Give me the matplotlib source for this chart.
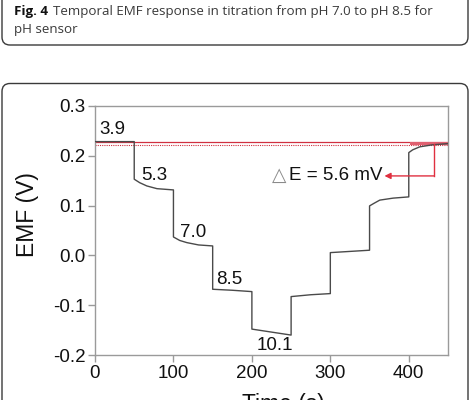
import matplotlib
matplotlib.use("Agg")
import matplotlib.pyplot as plt
from matplotlib.patches import FancyBboxPatch

plt.rcParams['axes.unicode_minus'] = False
plt.rcParams['font.family'] = ['Liberation Sans', 'DejaVu Sans']

# ---- data ----
time_s = [0, 50, 50, 57, 66, 79, 100, 100, 108, 117, 132, 150, 150, 175, 200,
          200, 225, 250, 250, 275, 300, 300, 325, 350, 350, 355, 363, 380, 400,
          400, 405, 414, 430, 450]
emf_v = [0.2285, 0.2285, 0.153, 0.146, 0.1395, 0.134, 0.1315, 0.037, 0.030,
         0.0257, 0.021, 0.019, -0.068, -0.070, -0.0727, -0.148, -0.154, -0.160,
         -0.0827, -0.079, -0.0767, 0.0056, 0.008, 0.0104, 0.0994, 0.104, 0.111,
         0.115, 0.1175, 0.2064, 0.212, 0.218, 0.222, 0.2245]
ph_labels = ["3.9", "5.3", "7.0", "8.5", "10.1"]
ph_label_x = [6, 59, 108, 154, 206]
ph_label_y = [0.252, 0.160, 0.046, -0.048, -0.180]
start_level = 0.2275
end_level = 0.2219
delta_symbol = "\u25b3"
delta_text = "E = 5.6 mV"
xticks = [0, 100, 200, 300, 400]
yticks = [-0.2, -0.1, 0.0, 0.1, 0.2, 0.3]
ytick_labels = ["-0.2", "-0.1", "0.0", "0.1", "0.2", "0.3"]
caption_bold = "Fig. 4"
caption_rest = "Temporal EMF response in titration from pH 7.0 to pH 8.5 for"
caption_line2 = "pH sensor"

W, H = 477, 400
fig = plt.figure(figsize=(W / 100, H / 100), dpi=100)

# overlay for page decorations (pixel coords)
bg = fig.add_axes([0, 0, 1, 1], zorder=0)
bg.set_xlim(0, W)
bg.set_ylim(H, 0)
bg.axis('off')
bg.add_patch(FancyBboxPatch((2, -30), 466, 75, boxstyle="round,pad=0,rounding_size=8",
                            fc='white', ec='#3a3a3a', lw=1.0))
bg.add_patch(FancyBboxPatch((2, 83.5), 466, 400, boxstyle="round,pad=0,rounding_size=8",
                            fc='white', ec='#3a3a3a', lw=1.0))
cap_font = ['Open Sans', 'DejaVu Sans']
t1 = bg.text(14, 11, caption_bold, fontsize=9.6, fontweight='bold', family=cap_font,
             va='center', ha='left', color='#111111')
fig.canvas.draw()
bb = t1.get_window_extent()
x_after = bb.x1 + 5
bg.text(x_after, 11, caption_rest, fontsize=9.6, family=cap_font,
        va='center', ha='left', color='#3a3a3a')
bg.text(14, 30, caption_line2, fontsize=9.6, family=cap_font,
        va='center', ha='left', color='#3a3a3a')

# main axes
left, right, top, bottom = 95, 448, 106, 355
ax = fig.add_axes([left / W, 1 - bottom / H, (right - left) / W, (bottom - top) / H], zorder=2)
ax.set_facecolor('none')
ax.set_xlim(0, 450)
ax.set_ylim(-0.2, 0.3)

ax.plot(time_s, emf_v, color='#4a4a4a', lw=1.0, zorder=3)

# reference lines
ax.plot([0, 450], [start_level, start_level], color='#d03040', lw=0.9, zorder=2)
ax.plot([0, 450], [end_level, end_level], color='#d03040', lw=0.8, ls=(0, (1, 1)), zorder=2)
ax.fill_between([401, 450], [end_level, end_level], [start_level, start_level],
                color='#e06070', lw=0, zorder=2)

# delta arrow
ax.plot([432, 432], [0.2245, 0.1596], color='#e03040', lw=1.0, zorder=4)
ax.annotate("", xy=(369, 0.1596), xytext=(432.5, 0.1596),
            arrowprops=dict(arrowstyle='-|>', color='#e03040', lw=1.0,
                            mutation_scale=9, shrinkA=0, shrinkB=0), zorder=4)
dt = ax.text(366, 0.1596, delta_text, fontsize=13.5, ha='right', va='center', color='#111111')
fig.canvas.draw()
dbb = dt.get_window_extent()
dx = ax.transData.inverted().transform((dbb.x0 - 2, 0))[0]
ax.text(dx, 0.1596, delta_symbol, fontsize=13.5, family=['DejaVu Sans'],
        ha='right', va='center', color='#8a8a8a')

for lab, lx, ly in zip(ph_labels, ph_label_x, ph_label_y):
    ax.text(lx, ly, lab, fontsize=13.5, ha='left', va='center', color='#111111')

ax.set_xticks(xticks)
ax.set_yticks(yticks)
ax.set_yticklabels(ytick_labels)
for s in ax.spines.values():
    s.set_color('#9a9a9a')
    s.set_linewidth(1.0)
ax.tick_params(direction='out', length=5, width=1, color='#9a9a9a',
               labelsize=13.5, labelcolor='#111111', pad=2)

fig.text(28 / W, 1 - 215 / H, "EMF (V)", rotation=90, fontsize=16.5,
         ha='center', va='center', color='#111111')
fig.text(283 / W, 1 - 405 / H, "Time (s)", fontsize=16.5,
         ha='center', va='center', color='#111111')

fig.savefig("out.png", dpi=100)
